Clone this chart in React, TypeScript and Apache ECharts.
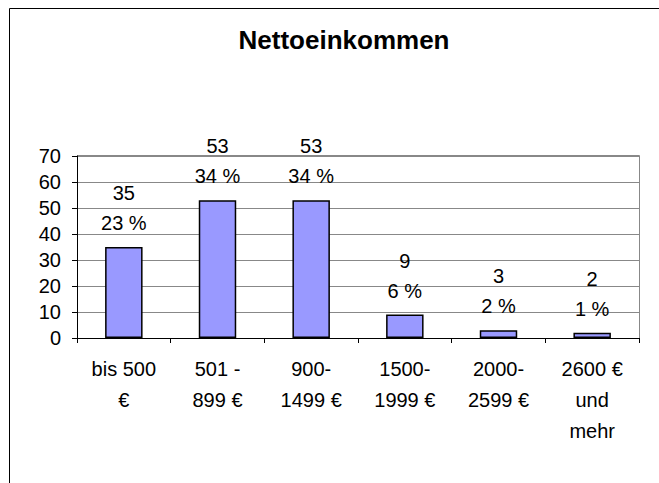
import React, { useEffect, useRef } from "react";
import * as echarts from "echarts";

const title = "Nettoeinkommen";
const categories = ["bis 500\n€", "501 -\n899 €", "900-\n1499 €", "1500-\n1999 €", "2000-\n2599 €", "2600 €\nund\nmehr"];
const counts = [35, 53, 53, 9, 3, 2];
const percents = [23, 34, 34, 6, 2, 1];
const yMin = 0;
const yMax = 70;
const yInterval = 10;

const FONT = "Liberation Sans, Arial, sans-serif";

export default function App() {
  const ref = useRef<HTMLDivElement>(null);
  useEffect(() => {
    if (!ref.current) return;
    const chart = echarts.init(ref.current, null, { renderer: "svg" });
    chart.setOption({
      animation: false,
      backgroundColor: "#ffffff",
      title: {
        text: title,
        left: 339,
        textAlign: "center",
        top: 22,
        textStyle: { fontFamily: FONT, fontSize: 26, fontWeight: "bold", color: "#000" },
      },
      graphic: [
        {
          type: "rect",
          shape: { x: 9.5, y: 8.5, width: 800, height: 800 },
          style: { fill: "none", stroke: "#000", lineWidth: 1 },
          silent: true,
        },
        {
          type: "polyline",
          shape: { points: [[77, 155.5], [639.5, 155.5], [639.5, 338]] },
          style: { fill: "none", stroke: "#888", lineWidth: 1 },
          silent: true,
          z: 0,
        },
      ],
      grid: { left: 77, right: 20, top: 156, bottom: 145, containLabel: false },
      xAxis: {
        type: "category",
        data: categories,
        boundaryGap: true,
        axisLine: { show: true, lineStyle: { color: "#000", width: 1 } },
        axisTick: { show: true, alignWithLabel: false, length: 5, lineStyle: { color: "#000" } },
        axisLabel: {
          interval: 0,
          margin: 15,
          fontFamily: FONT,
          fontSize: 20,
          lineHeight: 31,
          color: "#000",
          verticalAlign: "top",
        },
      },
      yAxis: {
        type: "value",
        min: yMin,
        max: yMax,
        interval: yInterval,
        axisLine: { show: true, lineStyle: { color: "#000", width: 1 } },
        axisTick: { show: true, length: 5, lineStyle: { color: "#000" } },
        axisLabel: { margin: 16, fontFamily: FONT, fontSize: 20, color: "#000" },
        splitLine: { show: true, lineStyle: { color: "#888", width: 1 } },
      },
      series: [
        {
          type: "bar",
          data: counts,
          barWidth: "40%",
          itemStyle: { color: "#9999ff", borderColor: "#000", borderWidth: 1.5 },
          label: {
            show: true,
            position: "top",
            distance: 9,
            fontFamily: FONT,
            fontSize: 20,
            lineHeight: 30,
            color: "#000",
            formatter: (p: any) => `${counts[p.dataIndex]}\n${percents[p.dataIndex]} %`,
          },
        },
      ],
    });
    return () => chart.dispose();
  }, []);
  return (
    <div
      ref={ref}
      style={{ position: "fixed", left: 0, top: 0, width: 659, height: 483, background: "#fff" }}
    />
  );
}
